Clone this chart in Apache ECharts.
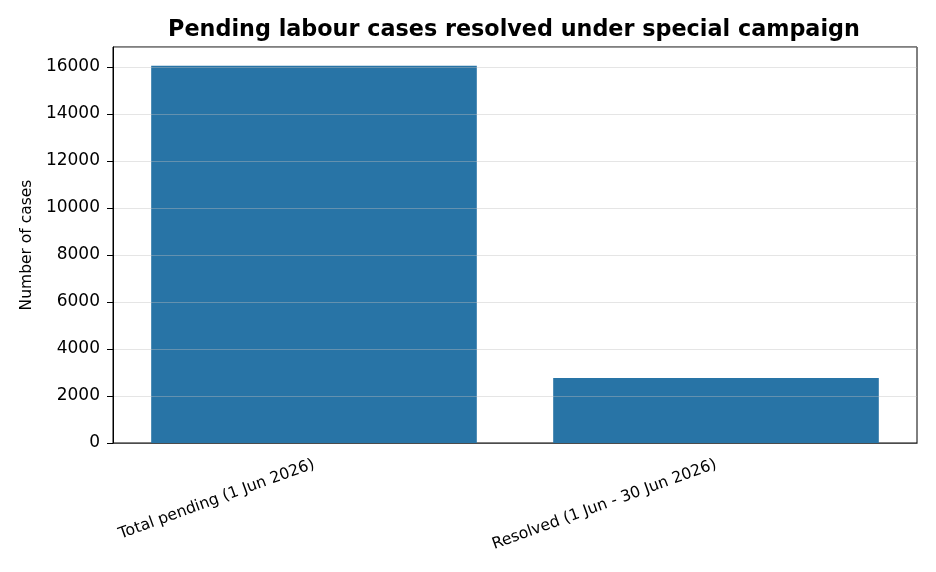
<!DOCTYPE html>
<html>
<head>
<meta charset="utf-8">
<script src="https://cdn.jsdelivr.net/npm/echarts@6/dist/echarts.min.js"></script>
<style>
  html, body { margin: 0; padding: 0; background: #fff; }
  #chart { width: 936px; height: 572px; }
</style>
</head>
<body>
<div id="chart"></div>
<script>
var categories = ['Total pending (1 Jun 2026)', 'Resolved (1 Jun - 30 Jun 2026)'];
var caseCounts = [16050, 2770];
var yTicks = [0, 2000, 4000, 6000, 8000, 10000, 12000, 14000, 16000];

var chartDom = document.getElementById('chart');
var myChart = echarts.init(chartDom);
var font = 'DejaVu Sans';

var option = {
  animation: false,
  backgroundColor: '#fff',
  title: {
    text: 'Pending labour cases resolved under special campaign',
    left: 509,
    top: 14,
    textAlign: 'center',
    textStyle: { fontFamily: font, fontSize: 22.3, fontWeight: 'bold', color: '#000' }
  },
  grid: {
    left: 113,
    right: 19,
    top: 47,
    bottom: 129,
    show: true,
    borderColor: '#000',
    borderWidth: 1,
    backgroundColor: 'transparent'
  },
  xAxis: {
    type: 'category',
    data: categories,
    axisLine: { lineStyle: { color: '#000' } },
    axisTick: { alignWithLabel: true, length: 6, lineStyle: { color: '#000' } },
    axisLabel: { rotate: 20, margin: 21, fontFamily: font, fontSize: 15.7, color: '#000' }
  },
  yAxis: {
    type: 'value',
    min: 0,
    max: function (v) { return v.max * 1.05; },
    interval: 2000,
    z: 3,
    name: 'Number of cases',
    nameLocation: 'middle',
    nameGap: 78,
    nameTextStyle: { fontFamily: font, fontSize: 15.5, color: '#000' },
    axisLine: { show: true, lineStyle: { color: '#000' } },
    axisTick: { show: true, length: 6, lineStyle: { color: '#000' } },
    axisLabel: {
      showMaxLabel: false,
      fontFamily: font, fontSize: 17, color: '#000', margin: 13,
      formatter: function (v) { return yTicks.indexOf(v) >= 0 ? String(v) : ''; }
    },
    splitLine: { show: true, lineStyle: { color: 'rgba(190,190,190,0.4)', width: 1 } }
  },
  series: [
    {
      type: 'bar',
      data: caseCounts,
      barWidth: '81%',
      itemStyle: { color: '#2874a6' }
    }
  ]
};

option && myChart.setOption(option);
</script>
</body>
</html>
